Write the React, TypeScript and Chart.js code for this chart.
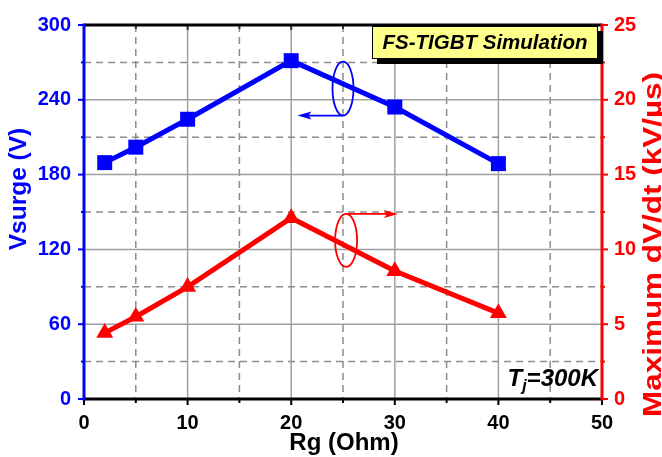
import React, { useEffect, useRef } from "react";
import { Chart, registerables } from "chart.js";

Chart.register(...registerables);

const rgValues = [2, 5, 10, 20, 30, 40];
const vsurgeValues = [189.6, 202, 224.4, 271.4, 234.2, 188.8];
const dvdtValues = [4.42, 5.5, 7.5, 12.1, 8.55, 5.74];
const xTicks = [0, 10, 20, 30, 40, 50];
const leftTicks = [0, 60, 120, 180, 240, 300];
const rightTicks = [0, 5, 10, 15, 20, 25];

const FONT = "'Liberation Sans', Arial, sans-serif";
const BLUE = "#0000ff";
const RED = "#ff0000";

function arrowHead(ctx: CanvasRenderingContext2D, x: number, y: number, dir: number, color: string) {
  ctx.beginPath();
  ctx.moveTo(x, y);
  ctx.lineTo(x - dir * 14, y - 4);
  ctx.lineTo(x - dir * 11, y);
  ctx.lineTo(x - dir * 14, y + 4);
  ctx.closePath();
  ctx.fillStyle = color;
  ctx.fill();
}

const decor = {
  id: "decor",
  beforeDatasetsDraw(chart: any) {
    const { ctx, chartArea: a, scales } = chart;
    const x = scales.x;
    const y = scales.y;
    ctx.save();
    ctx.lineWidth = 1.5;
    for (let i = 0; i < xTicks.length - 1; i++) {
      const mid = x.getPixelForValue((xTicks[i] + xTicks[i + 1]) / 2);
      ctx.strokeStyle = "#8c8c8c";
      ctx.setLineDash([7, 5]);
      ctx.beginPath();
      ctx.moveTo(mid, a.top);
      ctx.lineTo(mid, a.bottom);
      ctx.stroke();
      if (i > 0) {
        const px = x.getPixelForValue(xTicks[i]);
        ctx.strokeStyle = "#a0a0a0";
        ctx.setLineDash([]);
        ctx.beginPath();
        ctx.moveTo(px, a.top);
        ctx.lineTo(px, a.bottom);
        ctx.stroke();
      }
    }
    for (let i = 0; i < leftTicks.length - 1; i++) {
      const mid = y.getPixelForValue((leftTicks[i] + leftTicks[i + 1]) / 2);
      ctx.strokeStyle = "#8c8c8c";
      ctx.setLineDash([7, 5]);
      ctx.beginPath();
      ctx.moveTo(a.left, mid);
      ctx.lineTo(a.right, mid);
      ctx.stroke();
      if (i > 0) {
        const py = y.getPixelForValue(leftTicks[i]);
        ctx.strokeStyle = "#a0a0a0";
        ctx.setLineDash([]);
        ctx.beginPath();
        ctx.moveTo(a.left, py);
        ctx.lineTo(a.right, py);
        ctx.stroke();
      }
    }
    ctx.restore();
  },
  afterDatasetsDraw(chart: any) {
    const { ctx, chartArea: a, scales } = chart;
    const x = scales.x;
    const y = scales.y;
    const y1 = scales.y1;
    ctx.save();
    ctx.setLineDash([]);
    const tick = (color: string, x0: number, y0: number, x1: number, y1p: number, w: number) => {
      ctx.strokeStyle = color;
      ctx.lineWidth = w;
      ctx.beginPath();
      ctx.moveTo(x0, y0);
      ctx.lineTo(x1, y1p);
      ctx.stroke();
    };
    for (let i = 0; i < xTicks.length; i++) {
      const px = x.getPixelForValue(xTicks[i]);
      tick("#000", px, a.bottom, px, a.bottom + 6, 2);
      tick("#333", px, a.top, px, a.top + 5, 2);
      if (i < xTicks.length - 1) {
        const m = x.getPixelForValue((xTicks[i] + xTicks[i + 1]) / 2);
        tick("#000", m, a.bottom, m, a.bottom + 4, 2);
        tick("#333", m, a.top, m, a.top + 4, 2);
      }
    }
    for (let i = 0; i < leftTicks.length; i++) {
      const py = y.getPixelForValue(leftTicks[i]);
      tick(BLUE, a.left - 6, py, a.left, py, 2);
      if (i < leftTicks.length - 1) {
        const m = y.getPixelForValue((leftTicks[i] + leftTicks[i + 1]) / 2);
        tick(BLUE, a.left - 3, m, a.left, m, 2);
      }
    }
    for (let i = 0; i < rightTicks.length; i++) {
      const py = y1.getPixelForValue(rightTicks[i]);
      tick(RED, a.right, py, a.right + 6, py, 2);
      if (i < rightTicks.length - 1) {
        const m = y1.getPixelForValue((rightTicks[i] + rightTicks[i + 1]) / 2);
        tick(RED, a.right, m, a.right + 3, m, 2);
      }
    }
    tick("#000", a.left, a.top, a.right, a.top, 3);
    tick("#000", a.left, a.bottom, a.right, a.bottom, 3);
    tick(BLUE, a.left, a.top - 1.5, a.left, a.bottom + 1.5, 3);
    tick(RED, a.right, a.top - 1.5, a.right, a.bottom + 1.5, 3);

    // blue ellipse + left arrow
    const bx = x.getPixelForValue(25);
    const by = y.getPixelForValue(249);
    ctx.strokeStyle = BLUE;
    ctx.lineWidth = 1.8;
    ctx.beginPath();
    ctx.ellipse(bx, by, 10.5, 27, 0, 0, Math.PI * 2);
    ctx.stroke();
    const bax = x.getPixelForValue(20.6);
    ctx.beginPath();
    ctx.moveTo(bx, by + 27);
    ctx.lineTo(bax + 10, by + 27);
    ctx.stroke();
    arrowHead(ctx, bax, by + 27, -1, BLUE);

    // red ellipse + right arrow
    const rx = x.getPixelForValue(25.3);
    const ry = y1.getPixelForValue(10.6);
    ctx.strokeStyle = RED;
    ctx.beginPath();
    ctx.ellipse(rx, ry, 11, 26.5, 0, 0, Math.PI * 2);
    ctx.stroke();
    const rax = x.getPixelForValue(30.3);
    ctx.beginPath();
    ctx.moveTo(rx, ry - 26.5);
    ctx.lineTo(rax - 10, ry - 26.5);
    ctx.stroke();
    arrowHead(ctx, rax, ry - 26.5, 1, RED);

    // title box
    const boxR = a.right - 4;
    const boxW = 226;
    const boxL = boxR - boxW;
    const boxT = a.top + 1;
    const boxH = 33;
    ctx.fillStyle = "#000";
    ctx.fillRect(boxL + 5, boxT + 5, boxW, boxH);
    ctx.fillStyle = "#ffff8c";
    ctx.fillRect(boxL, boxT, boxW, boxH);
    ctx.strokeStyle = "#000";
    ctx.lineWidth = 1;
    ctx.strokeRect(boxL + 0.5, boxT + 0.5, boxW - 1, boxH - 1);
    ctx.fillStyle = "#000";
    ctx.font = `italic bold 20.5px ${FONT}`;
    ctx.textAlign = "center";
    ctx.textBaseline = "middle";
    ctx.fillText("FS-TIGBT Simulation", boxL + boxW / 2, boxT + boxH / 2 + 1);

    // Tj=300K
    ctx.textBaseline = "alphabetic";
    ctx.textAlign = "left";
    const big = `italic bold 24px ${FONT}`;
    const small = `italic bold 16px ${FONT}`;
    ctx.font = big;
    const wT = ctx.measureText("T").width;
    const wRest = ctx.measureText("=300K").width;
    ctx.font = small;
    const wj = ctx.measureText("j").width;
    const endX = a.right - 4;
    const base = a.bottom - 13;
    let sx = endX - wRest - wj - wT;
    ctx.font = big;
    ctx.fillText("T", sx, base);
    sx += wT;
    ctx.font = small;
    ctx.fillText("j", sx, base + 5);
    sx += wj;
    ctx.font = big;
    ctx.fillText("=300K", sx, base);

    // axis titles
    ctx.font = `bold 24.5px ${FONT}`;
    ctx.textAlign = "center";
    ctx.textBaseline = "middle";
    ctx.fillStyle = BLUE;
    ctx.save();
    ctx.translate(19, 189);
    ctx.rotate(-Math.PI / 2);
    ctx.fillText("Vsurge (V)", 0, 0);
    ctx.restore();

    ctx.fillStyle = RED;
    ctx.font = `bold 26px ${FONT}`;
    ctx.textBaseline = "alphabetic";
    ctx.textAlign = "left";
    const rTitle = "Maximum dV/dt (kV/\u00b5s)";
    const natural = ctx.measureText(rTitle).width;
    const target = 345;
    ctx.save();
    ctx.translate(661, 417);
    ctx.rotate(-Math.PI / 2);
    ctx.scale(target / natural, 1);
    ctx.fillText(rTitle, 0, 0);
    ctx.restore();

    ctx.fillStyle = "#000";
    ctx.font = `bold 24px ${FONT}`;
    ctx.textAlign = "center";
    ctx.fillText("Rg (Ohm)", (a.left + a.right) / 2 + 1, 450);
    ctx.restore();
  },
};

export default function App() {
  const ref = useRef<HTMLCanvasElement>(null);
  useEffect(() => {
    if (!ref.current) return;
    const tickFont = { family: FONT, size: 20, weight: "bold" as const };
    const chart = new Chart(ref.current, {
      type: "line",
      data: {
        labels: rgValues,
        datasets: [
          {
            label: "Vsurge",
            data: rgValues.map((r, i) => ({ x: r, y: vsurgeValues[i] })),
            borderColor: BLUE,
            backgroundColor: BLUE,
            borderWidth: 5,
            pointStyle: "rect",
            pointRadius: 10.6,
            pointBorderWidth: 0,
            yAxisID: "y",
            clip: false,
          },
          {
            label: "dV/dt",
            data: rgValues.map((r, i) => ({ x: r, y: dvdtValues[i] })),
            borderColor: RED,
            backgroundColor: RED,
            borderWidth: 5,
            pointStyle: "triangle",
            pointRadius: 9.8,
            pointBorderWidth: 0,
            yAxisID: "y1",
            clip: false,
          },
        ],
      },
      options: {
        responsive: false,
        animation: false,
        layout: { padding: { top: 16, left: 0, right: 0, bottom: 0 } },
        plugins: { legend: { display: false }, tooltip: { enabled: false } },
        scales: {
          x: {
            type: "linear",
            min: xTicks[0],
            max: xTicks[xTicks.length - 1],
            ticks: { stepSize: 10, font: tickFont, color: "#000", padding: 12, maxRotation: 0 },
            grid: { display: false, drawTicks: false },
            border: { display: false },
            afterFit: (s: any) => {
              s.height = 58;
            },
          },
          y: {
            position: "left",
            min: leftTicks[0],
            max: leftTicks[leftTicks.length - 1],
            ticks: { stepSize: 60, font: tickFont, color: BLUE, padding: 13 },
            grid: { display: false, drawTicks: false },
            border: { display: false },
            afterFit: (s: any) => {
              s.width = 84;
            },
          },
          y1: {
            position: "right",
            min: rightTicks[0],
            max: rightTicks[rightTicks.length - 1],
            ticks: { stepSize: 5, font: tickFont, color: RED, padding: 12 },
            grid: { display: false, drawTicks: false },
            border: { display: false },
            afterFit: (s: any) => {
              s.width = 60;
            },
          },
        },
      },
      plugins: [decor],
    });
    return () => chart.destroy();
  }, []);
  return (
    <div style={{ position: "fixed", left: 0, top: 0, width: 662, height: 457, background: "#fff" }}>
      <canvas ref={ref} width={662} height={457} style={{ display: "block" }} />
    </div>
  );
}
